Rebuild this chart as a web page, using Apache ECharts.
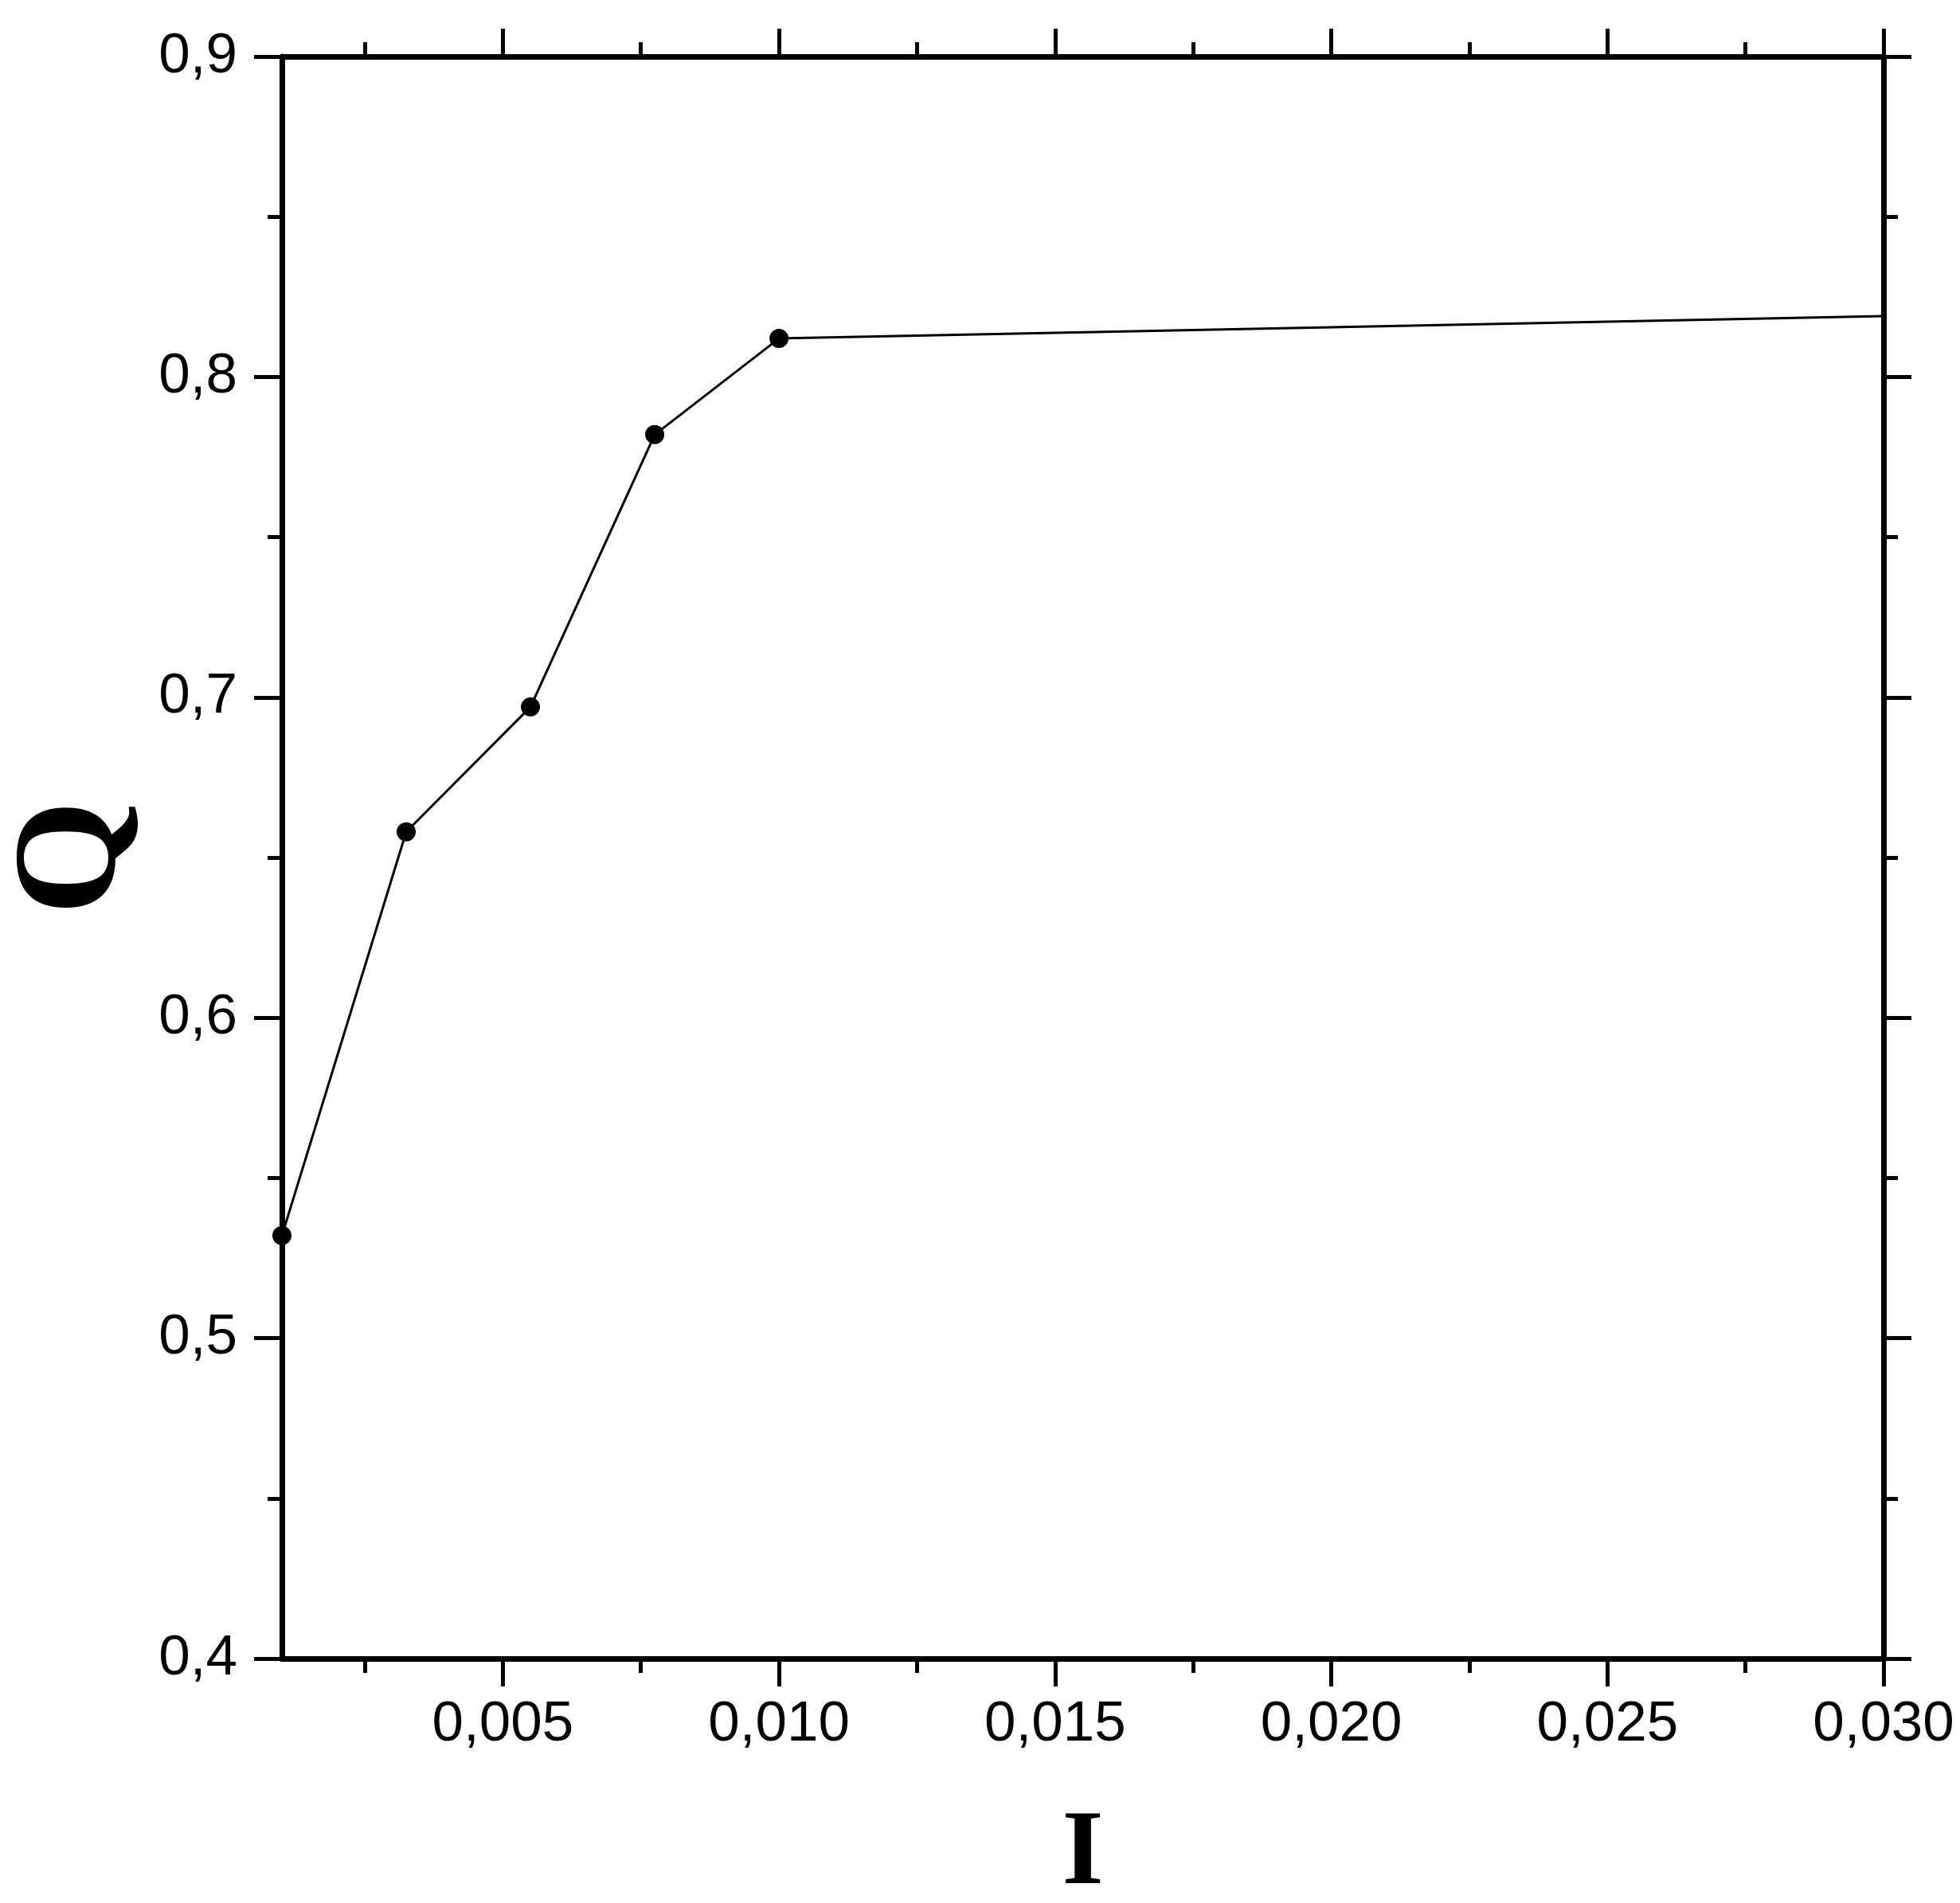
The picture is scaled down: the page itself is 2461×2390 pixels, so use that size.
<!DOCTYPE html>
<html>
<head>
<meta charset="utf-8">
<script src="https://cdn.jsdelivr.net/npm/echarts@6/dist/echarts.min.js"></script>
<style>
html,body{margin:0;padding:0;background:#fff;}
#chart{width:2461px;height:2390px;}
</style>
</head>
<body>
<div id="chart"></div>
<script>
// Data
const iValues = [0.001, 0.00325, 0.0055, 0.00775, 0.010, 0.030];
const qValues = [0.532, 0.658, 0.697, 0.782, 0.812, 0.819];
const markerShown = [true, true, true, true, true, false];
const xMajorTicks = [0.005, 0.010, 0.015, 0.020, 0.025, 0.030];
const xMinorTicks = [0.0025, 0.0075, 0.0125, 0.0175, 0.0225, 0.0275];
const xTitle = 'I';
const yTitle = 'Q';

const chart = echarts.init(document.getElementById('chart'), null, {renderer: 'canvas'});

const labelFont = {fontFamily: 'Liberation Sans, Arial, sans-serif', fontSize: 71, color: '#000'};
const lineStyle = {color: '#000', width: 7};
const fmtX = v => v.toFixed(3).replace('.', ',');
const fmtY = v => v.toFixed(1).replace('.', ',');

function xAxisDef(position, ticks, tickLen, showLine, showLabel, withName) {
  const ax = {
    type: 'value', position: position, min: 0.001, max: 0.030,
    axisLine: {show: showLine, onZero: false, lineStyle: lineStyle},
    axisTick: {show: true, inside: false, length: tickLen, customValues: ticks,
               lineStyle: {color: '#000', width: 5}},
    axisLabel: {show: showLabel, customValues: ticks, formatter: fmtX, margin: 48, ...labelFont},
    splitLine: {show: false}
  };
  if (withName) {
    ax.name = xTitle;
    ax.nameLocation = 'middle';
    ax.nameGap = 180;
    ax.nameTextStyle = {fontFamily: 'Liberation Serif, Times New Roman, serif', fontWeight: 'bold', fontSize: 134, color: '#000'};
  }
  return ax;
}

function yAxisDef(position, showLabel, withName) {
  const ax = {
    type: 'value', position: position, min: 0.4, max: 0.9, interval: 0.1,
    axisLine: {show: true, onZero: false, lineStyle: lineStyle},
    axisTick: {show: true, inside: false, length: 35, lineStyle: {color: '#000', width: 5}},
    minorTick: {show: true, splitNumber: 2, length: 18, lineStyle: {color: '#000', width: 5}},
    axisLabel: {show: showLabel, formatter: fmtY, margin: 56, ...labelFont},
    splitLine: {show: false},
    minorSplitLine: {show: false}
  };
  if (withName) {
    ax.name = yTitle;
    ax.nameLocation = 'middle';
    ax.nameRotate = 90;
    ax.nameGap = 166;
    ax.nameTextStyle = {fontFamily: 'Liberation Serif, Times New Roman, serif', fontWeight: 'bold', fontSize: 185, color: '#000'};
  }
  return ax;
}

const seriesData = iValues.map((x, k) => {
  const item = {value: [x, qValues[k]]};
  if (!markerShown[k]) item.symbol = 'none';
  return item;
});

chart.setOption({
  animation: false,
  backgroundColor: '#fff',
  grid: {left: 354, right: 96, top: 71, bottom: 307, containLabel: false, outerBoundsMode: 'none'},
  xAxis: [
    xAxisDef('bottom', xMajorTicks, 35, true, true, true),
    xAxisDef('bottom', xMinorTicks, 18, false, false, false),
    xAxisDef('top', xMajorTicks, 35, true, false, false),
    xAxisDef('top', xMinorTicks, 18, false, false, false)
  ],
  yAxis: [
    yAxisDef('left', true, true),
    yAxisDef('right', false, false)
  ],
  series: [{
    type: 'line',
    xAxisIndex: 0,
    yAxisIndex: 0,
    data: seriesData,
    symbol: 'circle',
    symbolSize: 24,
    showSymbol: true,
    clip: true,
    lineStyle: {color: '#000', width: 3},
    itemStyle: {color: '#000'}
  }]
});
</script>
</body>
</html>
